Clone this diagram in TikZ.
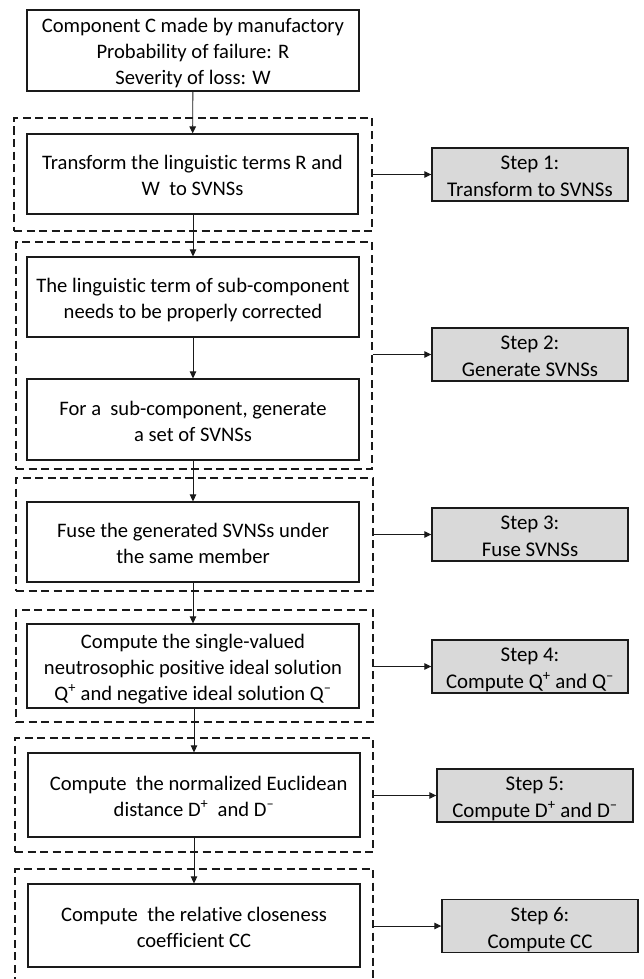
\documentclass[tikz,border=0pt]{standalone}
\usepackage{fontspec}
\setmainfont{Carlito}[Ligatures=NoCommon]
\usetikzlibrary{arrows.meta}
\definecolor{stepgray}{HTML}{D9D9D9}
\definecolor{inkline}{HTML}{1A1A1A}
% fixed-height line strut so every line takes the same room
\newcommand\lnstrut{\rule[-4.5pt]{0pt}{26pt}}
\begin{document}
\begin{tikzpicture}[x=1pt,y=-1pt,
  proc/.style={draw=inkline, line width=1.2pt, align=center, inner sep=0pt,
    minimum width=332pt, minimum height=80pt,
    font=\fontsize{20.6}{26}\selectfont},
  group/.style={draw=inkline, line width=1.1pt, dash pattern=on 8pt off 4.5pt,
    inner sep=0pt},
  stepbox/.style={draw=inkline, line width=1.4pt, fill=stepgray, align=center,
    inner sep=0pt, minimum width=196pt, minimum height=49pt,
    font=\fontsize{20.9}{25.7}\selectfont},
  flow/.style={draw=inkline, line width=0.9pt,
    -{Triangle[length=7pt,width=6.5pt]}}
]
\useasboundingbox[fill=white] (0,0) rectangle (644,979);

% dashed groups, one per step
\node[group, minimum width=358pt, minimum height=113pt] (g1) at (193,174.5) {};
\node[group, minimum width=356pt, minimum height=227pt] (g2) at (194,355.5) {};
\node[group, minimum width=357pt, minimum height=113pt] (g3) at (194.5,534.5) {};
\node[group, minimum width=357pt, minimum height=112pt] (g4) at (194.5,666) {};
\node[group, minimum width=358pt, minimum height=114pt] (g5) at (194,795) {};
% last group runs past the lower edge
\coordinate (g6sw) at (15,985);
\coordinate (g6ne) at (373,869);
\draw[group] (g6sw) -- (g6sw |- g6ne) -- (g6ne) -- (g6ne |- g6sw);
\coordinate (g6e) at (373,926);

% process boxes
\node[proc, minimum height=81pt] (top) at (193,50.5)
  {\lnstrut Component C made by manufactory\\
   \lnstrut Probability of failure: R\\
   \lnstrut Severity of loss: W};
\node[proc, minimum width=331pt] (b1) at (192.5,174)
  {\lnstrut Transform the linguistic terms R and\\\lnstrut W\ \ to SVNSs};
\node[proc] (b2) at (193,297)
  {\lnstrut The linguistic term of sub-component\\\lnstrut needs to be properly corrected};
\node[proc, minimum height=81pt] (b3) at (193,419.5)
  {\lnstrut For a\ \ sub-component, generate\\\lnstrut a set of SVNSs};
\node[proc] (b4) at (193,542)
  {\lnstrut Fuse the generated SVNSs under\\\lnstrut the same member};
\node[proc, minimum height=84pt] (b5) at (193,666)
  {\lnstrut Compute the single-valued\\
   \lnstrut neutrosophic positive ideal solution\\
   \lnstrut Q\textsuperscript{+} and negative ideal solution Q\textsuperscript{–}};
\node[proc, minimum height=84pt] (b6) at (194,795)
  {\lnstrut\ \ Compute\ \ the normalized Euclidean\\
   \lnstrut distance D\textsuperscript{+}\ \ and D\textsuperscript{–}};
\node[proc, minimum height=83pt] (b7) at (194,925.5)
  {\lnstrut Compute\ \ the relative closeness\\\lnstrut coefficient CC};

% step labels
\node[stepbox] (s1) at (530,174.5) {\lnstrut Step 1:\\\lnstrut Transform to SVNSs};
\node[stepbox] (s2) at (530,354.5) {\lnstrut Step 2:\\\lnstrut Generate SVNSs};
\node[stepbox] (s3) at (530,534.5) {\lnstrut Step 3:\\\lnstrut Fuse SVNSs};
\node[stepbox] (s4) at (530,666.5) {\lnstrut Step 4:\\\lnstrut Compute Q\textsuperscript{+} and Q\textsuperscript{–}};
\node[stepbox] (s5) at (535,795.5) {\lnstrut Step 5:\\\lnstrut Compute D\textsuperscript{+} and D\textsuperscript{–}};
\node[stepbox] (s6) at (540,926) {\lnstrut Step 6:\\\lnstrut Compute CC};

% main flow
\draw[flow] (top) -- (b1);
\draw[flow] (b1.south -| b2.north) -- (b2.north);
\draw[flow] (b2) -- (b3);
\draw[flow] (b3) -- (b4);
\draw[flow] (b4) -- (b5);
\draw[flow] (b5.south -| b6.north) -- (b6.north);
\draw[flow] (b6) -- (b7);

% links from each group to its step label
\draw[flow] (g1.east |- s1.west) -- (s1.west);
\draw[flow] (g2.east |- s2.west) -- (s2.west);
\draw[flow] (g3.east |- s3.west) -- (s3.west);
\draw[flow] (g4.east |- s4.west) -- (s4.west);
\draw[flow] (g5.east |- s5.west) -- (s5.west);
\draw[flow] (g6e) -- (s6.west);
\end{tikzpicture}
\end{document}
